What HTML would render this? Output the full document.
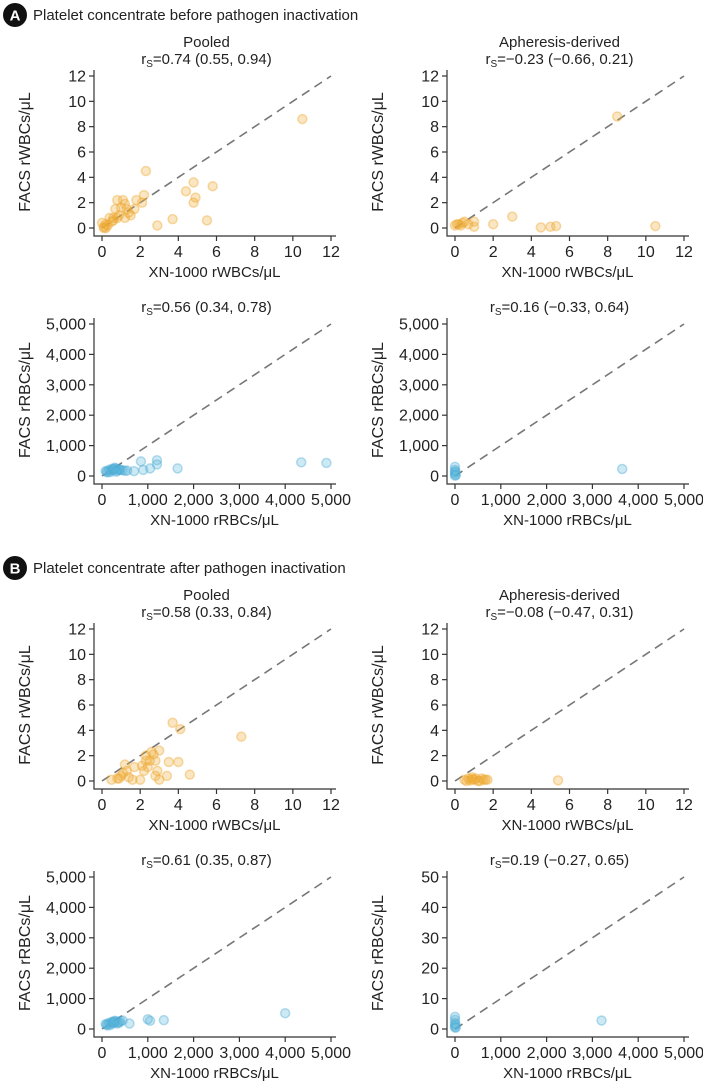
<!DOCTYPE html>
<html><head><meta charset="utf-8">
<style>
body{margin:0;background:#fff;}
svg{display:block;font-family:"Liberation Sans",Arial,sans-serif;}
</style></head>
<body>
<svg id="fig" width="703" height="1085" viewBox="0 0 703 1085" xmlns="http://www.w3.org/2000/svg">
<g>
<circle cx="15" cy="15" r="12" fill="#111"/>
<text x="15" y="20.5" text-anchor="middle" font-size="15" font-weight="bold" fill="#fff">A</text>
<text x="33" y="20" font-size="15" fill="#222">Platelet concentrate before pathogen inactivation</text>
</g>
<g>
<circle cx="15" cy="568" r="12" fill="#111"/>
<text x="15" y="573.5" text-anchor="middle" font-size="15" font-weight="bold" fill="#fff">B</text>
<text x="33" y="573" font-size="15" fill="#222">Platelet concentrate after pathogen inactivation</text>
</g>
</svg>
<script>
// data arrays
const wbcTicks=[0,2,4,6,8,10,12];
const wbcTickLabels=["0","2","4","6","8","10","12"];
const rbcTicks=[0,1000,2000,3000,4000,5000];
const rbcTickLabels=["0","1,000","2,000","3,000","4,000","5,000"];
const rbcSmallTicks=[0,10,20,30,40,50];
const rbcSmallTickLabels=["0","10","20","30","40","50"];

const aPooledWbcX=[10.5,2.3,4.8,5.8,4.4,4.9,4.8,2.2,1.8,2.1,0.8,1.1,1.2,1.0,1.3,1.7,1.5,1.2,0.8,0.6,0.4,0.7,3.7,5.5,2.9,0,0.1,0.2,0.3,0.1,0.5,0.9,1.4,0.2,0.6];
const aPooledWbcY=[8.6,4.5,3.6,3.3,2.9,2.4,2.0,2.6,2.2,2.0,2.2,2.2,1.9,1.6,1.5,1.5,1.0,0.8,0.8,0.8,0.8,1.5,0.7,0.6,0.2,0.4,0.1,0,0.2,0,0.5,1.0,1.2,0.3,0.6];
const aAphWbcX=[8.5,3.0,2.0,1.0,0.5,0.2,0,0.3,1.0,4.5,5.0,5.3,10.5,0.7,0.1,0.4];
const aAphWbcY=[8.8,0.9,0.3,0.5,0.5,0.3,0.2,0.2,0.1,0.05,0.1,0.15,0.15,0.3,0.3,0.4];
const aPooledRbcX=[4350,4900,1200,1200,1650,850,900,1050,700,100,150,200,250,300,350,400,450,500,550,120,180,220,280,330,380,80,260,310];
const aPooledRbcY=[450,430,520,380,250,480,200,250,160,150,200,180,230,250,220,200,190,170,180,120,130,240,270,180,210,160,200,140];
const aAphRbcX=[3650,0,0,0,0,0,20,10];
const aAphRbcY=[230,300,200,120,60,10,30,150];
const bPooledWbcX=[7.3,3.7,4.1,3.0,2.6,2.3,2.5,2.3,2.8,3.5,4.0,2.1,2.4,1.7,2.2,2.9,3.4,2.8,3.0,4.6,1.2,1.3,1.1,1.0,1.4,1.6,2.0,0.8,0.9,0.5,2.7];
const bPooledWbcY=[3.5,4.6,4.1,2.4,2.3,2.0,1.6,1.6,1.6,1.5,1.5,1.2,1.1,1.1,0.8,0.8,0.4,0.4,0.1,0.5,1.3,0.8,0.6,0.4,0.3,0.1,0.1,0.2,0.2,0.1,2.1];
const bAphWbcX=[5.4,0.5,0.7,0.9,1.0,1.2,1.4,1.6,1.7,0.6,0.8,1.1,1.3,0.9,1.5];
const bAphWbcY=[0.05,0.1,0.2,0.3,0.1,0.0,0.2,0.1,0.1,0.0,0.05,0.2,0.0,0.15,0.1];
const bPooledRbcX=[4000,1000,1050,1350,600,100,150,200,250,300,350,400,450,120,180,220,280,330,380,80,260];
const bPooledRbcY=[520,320,270,290,180,150,200,180,230,250,220,260,280,120,130,240,270,180,210,160,200];
const bAphRbcX=[3200,0,0,0,0,0,20,10];
const bAphRbcY=[2.8,4,3,2,1,0.5,0.5,1.5];

const NS="http://www.w3.org/2000/svg";
const svg=document.getElementById('fig');
function el(tag,attrs,parent){const e=document.createElementNS(NS,tag);for(const k in attrs)e.setAttribute(k,attrs[k]);(parent||svg).appendChild(e);return e;}

function panel(cfg){
  const g=el('g',{});
  
  
  const x0=cfg.left?102:455, w=229, y0=cfg.y0, h=152;
  const xs=v=>x0+v/cfg.max*w;
  const ys=v=>y0-v/cfg.ymax*h;
  if(cfg.title){const t=el('text',{x:x0+w/2-10,y:cfg.y0-181,'text-anchor':'middle','font-size':15,fill:'#222'},g);t.textContent=cfg.title;
    }
  const rs=el('text',{x:x0+w/2-10,y:cfg.y0-164,'text-anchor':'middle','font-size':15,fill:'#222'},g);
  
  rs.innerHTML='r<tspan font-size="10" dy="3">S</tspan><tspan dy="-3">='+cfg.rs+'</tspan>';
  const ax=el('path',{d:`M${x0-8},${y0-h-6}V${y0+8}H${x0+w+5}`,stroke:'#333','stroke-width':1.2,fill:'none'},g);
  
  cfg.yticks.forEach((v,i)=>{const y=ys(v);
    const tk=el('line',{x1:x0-13,x2:x0-8,y1:y,y2:y,stroke:'#333','stroke-width':1.2},g);
    
    const t=el('text',{x:x0-16,y:y+5.5,'text-anchor':'end','font-size':16,fill:'#222'},g);t.textContent=cfg.ylabels[i];
    });
  cfg.xticks.forEach((v,i)=>{const x=xs(v);
    const tk=el('line',{x1:x,x2:x,y1:y0+8,y2:y0+13,stroke:'#333','stroke-width':1.2},g);
    
    const t=el('text',{x:x,y:y0+29,'text-anchor':'middle','font-size':16,fill:'#222'},g);t.textContent=cfg.xlabels[i];
    });
  const xt=el('text',{x:x0+w/2-2,y:y0+49,'text-anchor':'middle','font-size':15,fill:'#222'},g);xt.textContent=cfg.xtitle;
  
  const yx=x0-72, yy=y0-h/2;
  const yt=el('text',{x:yx,y:yy,'text-anchor':'middle','font-size':16,fill:'#222',transform:`rotate(-90 ${yx} ${yy})`},g);yt.textContent=cfg.ytitle;
  
  const dl=el('line',{x1:xs(0),y1:ys(0),x2:xs(cfg.max),y2:ys(cfg.ymax),stroke:'#777','stroke-width':1.6,'stroke-dasharray':'9,6'},g);
  
  const fill=cfg.blue?'#5ab6dc':'#f0ad35', stroke=cfg.blue?'#4aabd4':'#eea52a';
  cfg.xs.forEach((xv,i)=>{
    const c=el('circle',{cx:xs(xv),cy:ys(cfg.ys[i]),r:4.5,fill:fill,'fill-opacity':0.3,stroke:stroke,'stroke-opacity':0.4,'stroke-width':1.5},g);
    
    
  });
}
const W="FACS rWBCs/\u03bcL", XW="XN-1000 rWBCs/\u03bcL", R="FACS rRBCs/\u03bcL", XR="XN-1000 rRBCs/\u03bcL";
panel({name:'panel-a-pooled-wbc',left:true,y0:228,max:12,ymax:12,xticks:wbcTicks,xlabels:wbcTickLabels,yticks:wbcTicks,ylabels:wbcTickLabels,title:'Pooled',rs:'0.74 (0.55, 0.94)',xtitle:XW,ytitle:W,xs:aPooledWbcX,ys:aPooledWbcY});
panel({name:'panel-a-apheresis-wbc',left:false,y0:228,max:12,ymax:12,xticks:wbcTicks,xlabels:wbcTickLabels,yticks:wbcTicks,ylabels:wbcTickLabels,title:'Apheresis-derived',rs:'\u22120.23 (\u22120.66, 0.21)',xtitle:XW,ytitle:W,xs:aAphWbcX,ys:aAphWbcY});
panel({name:'panel-a-pooled-rbc',left:true,y0:476,max:5000,ymax:5000,xticks:rbcTicks,xlabels:rbcTickLabels,yticks:rbcTicks,ylabels:rbcTickLabels,rs:'0.56 (0.34, 0.78)',xtitle:XR,ytitle:R,blue:true,xs:aPooledRbcX,ys:aPooledRbcY});
panel({name:'panel-a-apheresis-rbc',left:false,y0:476,max:5000,ymax:5000,xticks:rbcTicks,xlabels:rbcTickLabels,yticks:rbcTicks,ylabels:rbcTickLabels,rs:'0.16 (\u22120.33, 0.64)',xtitle:XR,ytitle:R,blue:true,xs:aAphRbcX,ys:aAphRbcY});
panel({name:'panel-b-pooled-wbc',left:true,y0:781,max:12,ymax:12,xticks:wbcTicks,xlabels:wbcTickLabels,yticks:wbcTicks,ylabels:wbcTickLabels,title:'Pooled',rs:'0.58 (0.33, 0.84)',xtitle:XW,ytitle:W,xs:bPooledWbcX,ys:bPooledWbcY});
panel({name:'panel-b-apheresis-wbc',left:false,y0:781,max:12,ymax:12,xticks:wbcTicks,xlabels:wbcTickLabels,yticks:wbcTicks,ylabels:wbcTickLabels,title:'Apheresis-derived',rs:'\u22120.08 (\u22120.47, 0.31)',xtitle:XW,ytitle:W,xs:bAphWbcX,ys:bAphWbcY});
panel({name:'panel-b-pooled-rbc',left:true,y0:1029,max:5000,ymax:5000,xticks:rbcTicks,xlabels:rbcTickLabels,yticks:rbcTicks,ylabels:rbcTickLabels,rs:'0.61 (0.35, 0.87)',xtitle:XR,ytitle:R,blue:true,xs:bPooledRbcX,ys:bPooledRbcY});
panel({name:'panel-b-apheresis-rbc',left:false,y0:1029,max:5000,ymax:50,xticks:rbcTicks,xlabels:rbcTickLabels,yticks:rbcSmallTicks,ylabels:rbcSmallTickLabels,rs:'0.19 (\u22120.27, 0.65)',xtitle:XR,ytitle:R,blue:true,xs:bAphRbcX,ys:bAphRbcY});
</script>
</body></html>
